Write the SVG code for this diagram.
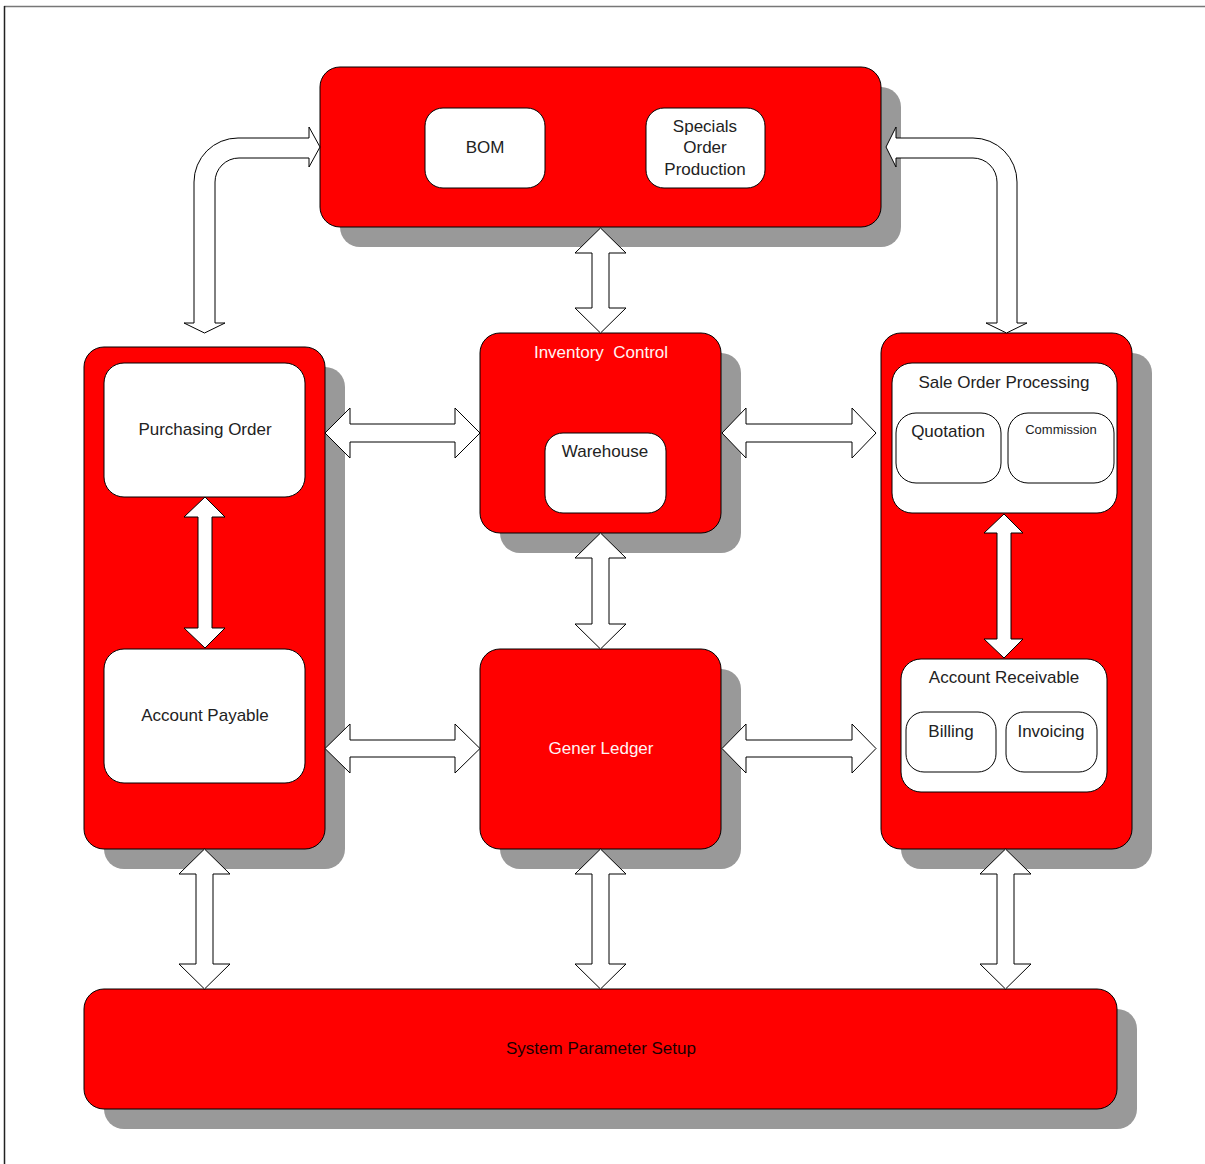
<svg xmlns="http://www.w3.org/2000/svg" width="1205" height="1164" viewBox="0 0 1205 1164">
<style>
.sh{fill:#999999;stroke:none}
.box{fill:#ff0000;stroke:#000;stroke-width:1}
.in{fill:#fff;stroke:#000;stroke-width:1}
.arr{fill:#fff;stroke:#000;stroke-width:1;stroke-linejoin:miter}
text{font-family:"Liberation Sans",Arial,sans-serif;font-size:17px;text-anchor:middle;fill:#222}
.wt{fill:#fff4f4}
.dk{fill:#1a0000}
.sm{font-size:13px}
</style>
<rect width="1205" height="1164" fill="#fff"/>
<line x1="4" y1="6.5" x2="1205" y2="6.5" stroke="#777" stroke-width="1.5"/>
<line x1="4.5" y1="6" x2="4.5" y2="1164" stroke="#222" stroke-width="1.5"/>

<g id="production">
<rect class="sh" x="340" y="87" width="561" height="160" rx="20"/>
<rect class="box" x="320" y="67" width="561" height="160" rx="20"/>
</g>
<g id="bom">
<rect class="in" x="425" y="108" width="120" height="80" rx="18"/>
<text x="485" y="153">BOM</text>
</g>
<g id="specials">
<rect class="in" x="646" y="108" width="119" height="80" rx="18"/>
<text x="705" y="132">Specials</text>
<text x="705" y="153">Order</text>
<text x="705" y="175">Production</text>
</g>

<g id="purchasing">
<rect class="sh" x="104" y="367" width="241" height="502" rx="20"/>
<rect class="box" x="84" y="347" width="241" height="502" rx="20"/>
</g>
<g id="purchasing-order">
<rect class="in" x="104" y="363" width="201" height="134" rx="20"/>
<text x="205" y="435">Purchasing Order</text>
</g>
<g id="account-payable">
<rect class="in" x="104" y="649" width="201" height="134" rx="20"/>
<text x="205" y="721">Account Payable</text>
</g>

<g id="inventory">
<rect class="sh" x="500" y="353" width="241" height="200" rx="20"/>
<rect class="box" x="480" y="333" width="241" height="200" rx="20"/>
<text class="wt" x="601" y="358" xml:space="preserve">Inventory  Control</text>
</g>
<g id="warehouse">
<rect class="in" x="545" y="433" width="121" height="80" rx="18"/>
<text x="605" y="457">Warehouse</text>
</g>

<g id="ledger">
<rect class="sh" x="500" y="669" width="241" height="200" rx="20"/>
<rect class="box" x="480" y="649" width="241" height="200" rx="20"/>
<text class="wt" x="601" y="754">Gener Ledger</text>
</g>

<g id="sales">
<rect class="sh" x="901" y="353" width="251" height="516" rx="20"/>
<rect class="box" x="881" y="333" width="251" height="516" rx="20"/>
</g>
<g id="sale-order">
<rect class="in" x="892" y="363" width="225" height="150" rx="20"/>
<text x="1004" y="388">Sale Order Processing</text>
</g>
<g id="quotation">
<rect class="in" x="896" y="413" width="105" height="70" rx="20"/>
<text x="948" y="437">Quotation</text>
</g>
<g id="commission">
<rect class="in" x="1008" y="413" width="106" height="70" rx="20"/>
<text class="sm" x="1061" y="434">Commission</text>
</g>
<g id="account-receivable">
<rect class="in" x="901" y="659" width="206" height="133" rx="20"/>
<text x="1004" y="683">Account Receivable</text>
</g>
<g id="billing">
<rect class="in" x="906" y="712" width="90" height="60" rx="18"/>
<text x="951" y="737">Billing</text>
</g>
<g id="invoicing">
<rect class="in" x="1006" y="712" width="91" height="60" rx="18"/>
<text x="1051" y="737">Invoicing</text>
</g>

<g id="system">
<rect class="sh" x="104" y="1009" width="1033" height="120" rx="20"/>
<rect class="box" x="84" y="989" width="1033" height="120" rx="20"/>
<text class="dk" x="601" y="1054">System Parameter Setup</text>
</g>

<g id="connectors">
<!-- curved arrows -->
<path class="arr" d="M204.5 333 L225 323 L215 323 L215 182 A24 24 0 0 1 239 158 L309 158 L309 167 L320 147 L309 127 L309 138 L238 138 A44 44 0 0 0 194 182 L194 323 L184 323 Z"/>
<path class="arr" d="M1006.5 333 L986 323 L997 323 L997 182 A24 24 0 0 0 973 158 L896 158 L896 167 L886 147 L896 127 L896 138 L973 138 A44 44 0 0 1 1017 182 L1017 323 L1027 323 Z"/>
<!-- vertical center -->
<path class="arr" d="M600.5 228 L626 253 L609 253 L609 308 L626 308 L600.5 333 L575 308 L592 308 L592 253 L575 253 Z"/>
<path class="arr" d="M600.5 533 L626 558 L609 558 L609 624 L626 624 L600.5 649 L575 624 L592 624 L592 558 L575 558 Z"/>
<path class="arr" d="M600.5 849 L626 874 L609 874 L609 964 L626 964 L600.5 989 L575 964 L592 964 L592 874 L575 874 Z"/>
<!-- verticals to system -->
<path class="arr" d="M204.5 849 L230 874 L213 874 L213 964 L230 964 L204.5 989 L179 964 L196 964 L196 874 L179 874 Z"/>
<path class="arr" d="M1005.5 849 L1031 874 L1014 874 L1014 964 L1031 964 L1005.5 989 L980 964 L997 964 L997 874 L980 874 Z"/>
<!-- inner verticals -->
<path class="arr" d="M205 497 L225 517 L212 517 L212 628 L225 628 L205 648 L184 628 L198 628 L198 517 L184 517 Z"/>
<path class="arr" d="M1004 514 L1023 533 L1011 533 L1011 639 L1023 639 L1004 658 L984 639 L997 639 L997 533 L984 533 Z"/>
<!-- horizontals -->
<path class="arr" d="M325 433 L350 408 L350 424 L455 424 L455 408 L480 433 L455 458 L455 442 L350 442 L350 458 Z"/>
<path class="arr" d="M325 748.5 L350 724 L350 740 L455 740 L455 724 L480 748.5 L455 773 L455 757 L350 757 L350 773 Z"/>
<path class="arr" d="M722 433 L746 408 L746 424 L852 424 L852 408 L876 433 L852 458 L852 442 L746 442 L746 458 Z"/>
<path class="arr" d="M722 748.5 L746 724 L746 740 L852 740 L852 724 L876 748.5 L852 773 L852 757 L746 757 L746 773 Z"/>
</g>
</svg>
